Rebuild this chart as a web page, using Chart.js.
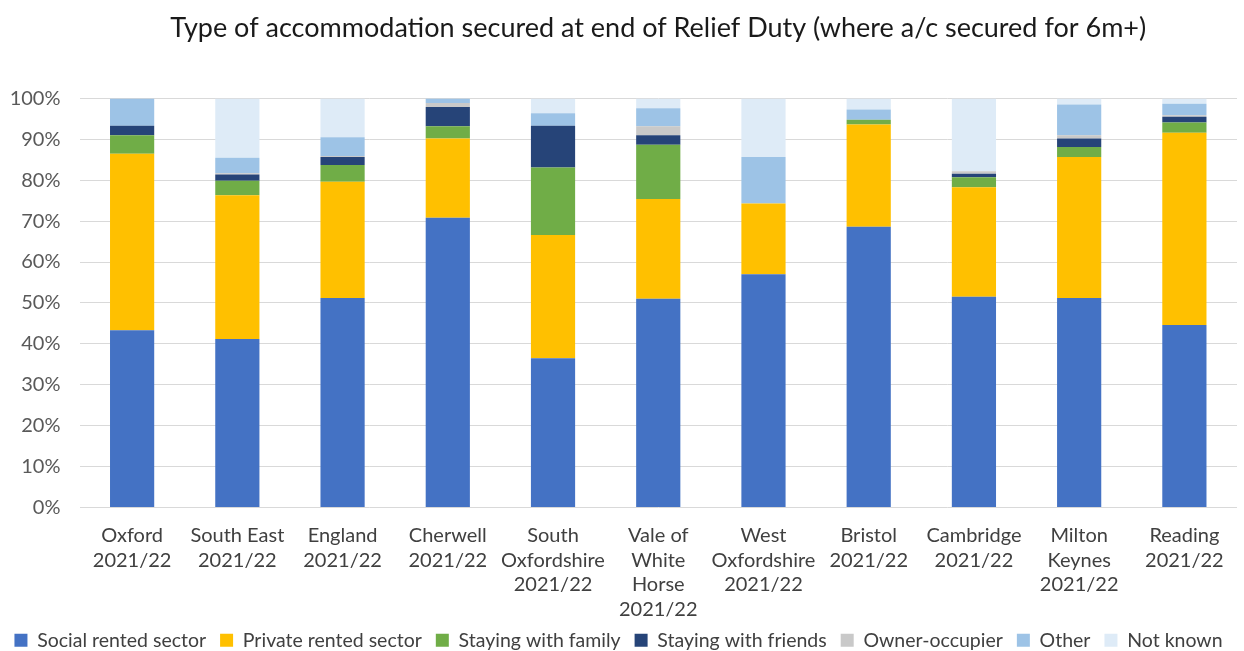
<!DOCTYPE html>
<html>
<head>
<meta charset="utf-8">
<script src="https://cdn.jsdelivr.net/npm/chart.js@4"></script>
<style>
  html, body { margin: 0; padding: 0; background: #ffffff; }
  #wrap { width: 1244px; height: 651px; overflow: hidden; }
</style>
</head>
<body>
<div id="wrap"><canvas id="c" width="1244" height="651"></canvas></div>
<script>
// Areas (each label split into the lines shown under the axis)
const categories = [
  ["Oxford", "2021/22"],
  ["South East", "2021/22"],
  ["England", "2021/22"],
  ["Cherwell", "2021/22"],
  ["South", "Oxfordshire", "2021/22"],
  ["Vale of", "White", "Horse", "2021/22"],
  ["West", "Oxfordshire", "2021/22"],
  ["Bristol", "2021/22"],
  ["Cambridge", "2021/22"],
  ["Milton", "Keynes", "2021/22"],
  ["Reading", "2021/22"]
];

// Share of households (%) by type of accommodation secured
const socialRented   = [43.3, 41.2, 51.2, 70.8, 36.5, 51.0, 57.0, 68.6, 51.5, 51.2, 44.6];
const privateRented  = [43.2, 35.1, 28.4, 19.4, 30.1, 24.4, 17.3, 25.0, 26.8, 34.5, 47.0];
const stayingFamily  = [ 4.5,  3.6,  4.1,  3.0, 16.5, 13.3,  0.0,  1.2,  2.4,  2.4,  2.5];
const stayingFriends = [ 2.3,  1.5,  2.0,  4.7, 10.2,  2.3,  0.0,  0.0,  0.9,  2.1,  1.4];
const ownerOccupier  = [ 0.0,  0.3,  0.2,  1.0,  0.0,  2.2,  0.0,  0.0,  0.6,  0.8,  0.4];
const other          = [ 6.7,  3.8,  4.6,  1.1,  3.1,  4.4, 11.4,  2.5,  0.0,  7.5,  2.8];
const notKnown       = [ 0.0, 14.5,  9.5,  0.0,  3.6,  2.4, 14.3,  2.7, 17.8,  1.5,  1.3];

const yTicks = [0, 10, 20, 30, 40, 50, 60, 70, 80, 90, 100];

const FONT = "Lato";

const series = [
  { label: "Social rented sector", data: socialRented,   color: "#4472C4" },
  { label: "Private rented sector", data: privateRented, color: "#FFC000" },
  { label: "Staying with family", data: stayingFamily,   color: "#70AD47" },
  { label: "Staying with friends", data: stayingFriends, color: "#264478" },
  { label: "Owner-occupier", data: ownerOccupier,        color: "#C9C9C9" },
  { label: "Other", data: other,                         color: "#9DC3E6" },
  { label: "Not known", data: notKnown,                  color: "#DEEBF7" }
];

new Chart(document.getElementById("c"), {
  type: "bar",
  data: {
    labels: categories,
    datasets: series.map(s => ({
      label: s.label,
      data: s.data,
      backgroundColor: s.color,
      borderWidth: 0,
      barPercentage: 0.42,
      categoryPercentage: 1.0
    }))
  },
  options: {
    responsive: false,
    animation: false,
    events: [],
    layout: { padding: { left: 0, right: 7, top: 0, bottom: -9 } },
    plugins: {
      title: {
        display: true,
        fullSize: false,
        text: "Type of accommodation secured at end of Relief Duty (where a/c secured for 6m+)",
        color: "#1a1a1a",
        font: { family: FONT, size: 27, weight: "normal" },
        padding: { top: 12, bottom: 54 }
      },
      legend: {
        position: "bottom",
        labels: {
          color: "#404040",
          font: { family: FONT, size: 19.5 },
          boxWidth: 13,
          boxHeight: 13,
          padding: 14
        }
      },
      tooltip: { enabled: false }
    },
    scales: {
      x: {
        stacked: true,
        afterFit: s => { s.height = 109; },
        grid: { display: false, drawTicks: false },
        border: { display: false },
        ticks: {
          color: "#404040",
          font: { family: FONT, size: 20, lineHeight: 1.23 },
          maxRotation: 0,
          autoSkip: false,
          padding: 16
        }
      },
      y: {
        stacked: true,
        min: 0,
        max: 100,
        afterFit: s => { s.width = 79.5; },
        afterBuildTicks: s => { s.ticks = yTicks.map(v => ({ value: v })); },
        grid: { color: "#D9D9D9", lineWidth: 1, drawTicks: false },
        border: { display: false },
        ticks: {
          color: "#595959",
          font: { family: FONT, size: 20 },
          padding: 19,
          callback: v => v + "%"
        }
      }
    }
  }
});
</script>
</body>
</html>
